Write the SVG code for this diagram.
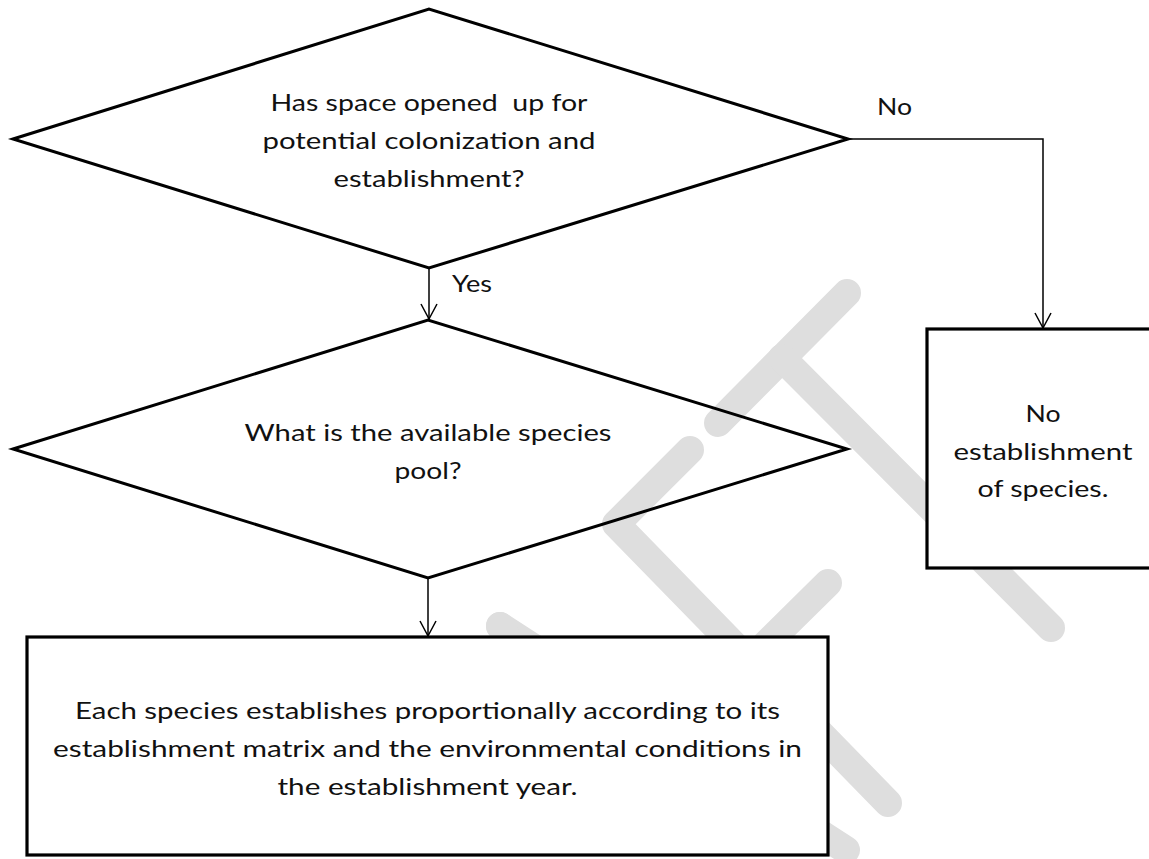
<svg xmlns="http://www.w3.org/2000/svg" width="1149" height="859" viewBox="0 0 1149 859">
  <style>
    .wm { stroke: #dedede; stroke-width: 28; stroke-linecap: round; stroke-linejoin: round; fill: none; }
    .dia { fill: none; stroke: #000; stroke-width: 3; stroke-linejoin: miter; }
    .box { fill: #fff; stroke: #000; stroke-width: 3.2; }
    .conn { fill: none; stroke: #000; stroke-width: 1.5; }
    text { font-family: Lato, "Liberation Sans", sans-serif; font-size: 23px; fill: #111; }
    .c { text-anchor: middle; }
  </style>
  <defs>
    <marker id="arr" markerUnits="userSpaceOnUse" viewBox="-17 -10 19 20" markerWidth="19" markerHeight="20" refX="0" refY="0" orient="auto" overflow="visible">
      <path d="M-15,-8 L0,0 L-15,8" fill="none" stroke="#000" stroke-width="1.5"/>
    </marker>
  </defs>
  <rect width="1149" height="859" fill="#fff"/>

  <g id="watermark">
    <line class="wm" x1="718" y1="423" x2="847" y2="293"/>
    <line class="wm" x1="782" y1="358" x2="1051" y2="628"/>
    <polyline class="wm" points="690,450 616,524 888,803"/>
    <line class="wm" x1="750" y1="660" x2="828" y2="583"/>
    <line class="wm" x1="500" y1="626" x2="846" y2="850"/>
    <line class="wm" x1="500" y1="626" x2="620" y2="820"/>
  </g>

  <g id="connectors">
    <polyline class="conn" points="848,139 1043,139 1043,328" marker-end="url(#arr)"/>
    <line class="conn" x1="429" y1="268" x2="429" y2="319" marker-end="url(#arr)"/>
    <line class="conn" x1="428" y1="578" x2="428" y2="636" marker-end="url(#arr)"/>
    <text x="877" y="115" textLength="35" lengthAdjust="spacingAndGlyphs">No</text>
    <text x="452" y="292" textLength="40" lengthAdjust="spacingAndGlyphs">Yes</text>
  </g>

  <g id="q-space">
    <polygon class="dia" points="13,139 429,9 848,139 429,268"/>
    <text class="c" x="429" y="111" textLength="317" lengthAdjust="spacingAndGlyphs" xml:space="preserve">Has space opened  up for</text>
    <text class="c" x="429" y="149" textLength="333" lengthAdjust="spacingAndGlyphs">potential colonization and</text>
    <text class="c" x="429" y="187" textLength="191" lengthAdjust="spacingAndGlyphs">establishment?</text>
  </g>

  <g id="q-pool">
    <polygon class="dia" points="13,449 428,320 847,449 428,578"/>
    <text class="c" x="428" y="441" textLength="367" lengthAdjust="spacingAndGlyphs">What is the available species</text>
    <text class="c" x="428" y="479" textLength="67" lengthAdjust="spacingAndGlyphs">pool?</text>
  </g>

  <g id="no-establishment">
    <rect class="box" x="927" y="329" width="232" height="239"/>
    <text class="c" x="1043" y="422" textLength="35" lengthAdjust="spacingAndGlyphs">No</text>
    <text class="c" x="1043" y="460" textLength="179" lengthAdjust="spacingAndGlyphs">establishment</text>
    <text class="c" x="1043" y="497" textLength="131" lengthAdjust="spacingAndGlyphs">of species.</text>
  </g>

  <g id="establish">
    <rect class="box" x="27" y="637" width="801" height="218"/>
    <text class="c" x="427.5" y="719" textLength="705" lengthAdjust="spacingAndGlyphs">Each species establishes proportionally according to its</text>
    <text class="c" x="427.5" y="757" textLength="749" lengthAdjust="spacingAndGlyphs">establishment matrix and the environmental conditions in</text>
    <text class="c" x="427.5" y="795" textLength="300" lengthAdjust="spacingAndGlyphs">the establishment year.</text>
  </g>
</svg>
